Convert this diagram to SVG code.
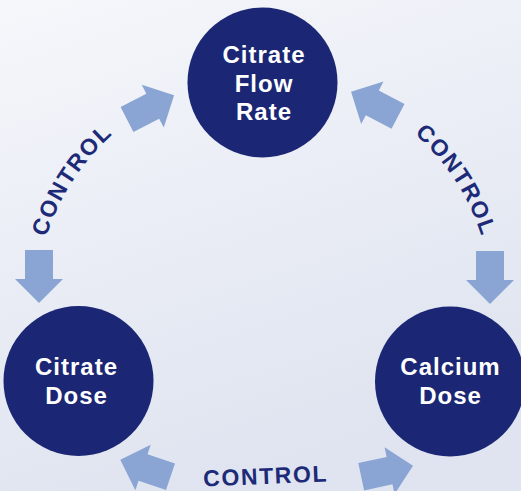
<svg xmlns="http://www.w3.org/2000/svg" width="521" height="491" viewBox="0 0 521 491">
<defs>
<linearGradient id="bg" x1="0" y1="0" x2="0.35" y2="1">
<stop offset="0" stop-color="#f5f7fb"/>
<stop offset="0.5" stop-color="#eaedf5"/>
<stop offset="1" stop-color="#dfe4f0"/>
</linearGradient>
<path id="arrow" d="M0,-14 L29,-14 L29,-24 L53,0 L29,24 L29,14 L0,14 Z"/>
<path id="arcL" d="M37.7,332.8 A228,228 0 0 1 197.3,87.0"/>
<path id="arcR" d="M330.7,87.0 A228,228 0 0 1 490.3,332.8"/>
</defs>
<style>
.node circle{fill:#1b2774}
.node text{fill:#ffffff;font-family:"Liberation Sans",Arial,sans-serif;font-weight:bold;font-size:24px;letter-spacing:1px;text-anchor:middle}
.arr{fill:#8aa5d4}
.lbl{fill:#1c2a78;font-family:"Liberation Sans",Arial,sans-serif;font-weight:bold;font-size:23px;letter-spacing:1.6px}
</style>
<rect width="521" height="491" fill="url(#bg)"/>
<g id="connectors">
<use href="#arrow" class="arr" transform="translate(127,119.5) rotate(-27.3)"/>
<use href="#arrow" class="arr" transform="translate(398,116.3) rotate(207.7)"/>
<use href="#arrow" class="arr" transform="translate(39,250) rotate(90)"/>
<use href="#arrow" class="arr" transform="translate(490,251) rotate(90)"/>
<use href="#arrow" class="arr" transform="translate(170.5,476.7) rotate(198.7)"/>
<use href="#arrow" class="arr" transform="translate(361.2,476.7) rotate(-12)"/>
<text class="lbl" text-anchor="middle"><textPath href="#arcL" startOffset="50%">CONTROL</textPath></text>
<text class="lbl" text-anchor="middle"><textPath href="#arcR" startOffset="50%">CONTROL</textPath></text>
<text class="lbl" x="266" y="484" text-anchor="middle" transform="rotate(-2.3 265 484)">CONTROL</text>
</g>
<g id="node-citrate-flow-rate" class="node">
<circle cx="262.5" cy="82.5" r="75"/>
<text x="264" y="63">Citrate</text>
<text x="264" y="92">Flow</text>
<text x="264" y="120">Rate</text>
</g>
<g id="node-citrate-dose" class="node">
<circle cx="78.5" cy="381" r="75"/>
<text x="76.5" y="375">Citrate</text>
<text x="76.5" y="404">Dose</text>
</g>
<g id="node-calcium-dose" class="node">
<circle cx="450" cy="381.5" r="75"/>
<text x="450.5" y="375">Calcium</text>
<text x="450.5" y="404">Dose</text>
</g>
</svg>
